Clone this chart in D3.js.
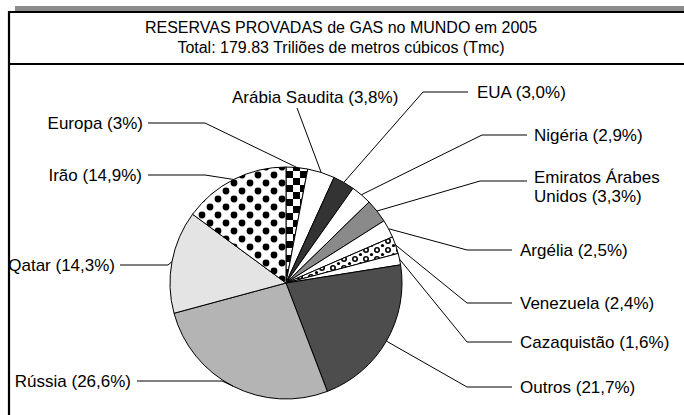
<!DOCTYPE html>
<html><head><meta charset="utf-8">
<script src="https://cdn.jsdelivr.net/npm/d3@7"></script>
<style>
html,body{margin:0;padding:0;background:#fff;}
svg{display:block;font-family:"Liberation Sans",Arial,sans-serif;}
</style></head>
<body><svg id="chart" width="684" height="415"></svg>
<script>
// ---- data ----
const categories = ["Europa","Arábia Saudita","EUA","Nigéria","Emiratos Árabes Unidos","Argélia","Venezuela","Cazaquistão","Outros","Rússia","Qatar","Irão"];
const shares = [3.0,3.8,3.0,2.9,3.3,2.5,2.4,1.6,21.7,26.6,14.3,14.9];
const labelLines = [["Europa (3%)"],["Arábia Saudita (3,8%)"],["EUA (3,0%)"],["Nigéria (2,9%)"],["Emiratos Árabes","Unidos (3,3%)"],["Argélia (2,5%)"],["Venezuela (2,4%)"],["Cazaquistão (1,6%)"],["Outros (21,7%)"],["Rússia (26,6%)"],["Qatar (14,3%)"],["Irão (14,9%)"]];
const titleLines = ["RESERVAS PROVADAS de GAS no MUNDO em 2005","Total: 179.83 Triliões de metros cúbicos (Tmc)"];

// ---- styles / layout ----
const fills = ["url(#checker)","#ffffff","#333333","#ffffff","#8a8a8a","#ffffff","url(#rings)","#ffffff","#4d4d4d","#b4b4b4","#e4e4e4","url(#dots)"];
const layout = [
  {ex:205,ey:123,hx:148,tx:143,anchor:"end"},
  {ex:297,ey:108,hx:297,tx:232,ty:97,anchor:"start"},
  {ex:423,ey:92,hx:468,tx:477,anchor:"start"},
  {ex:482,ey:135,hx:527,tx:534,anchor:"start"},
  {ex:480,ey:181,hx:527,tx:534,ty:177,anchor:"start"},
  {ex:467,ey:250,hx:512,tx:520,anchor:"start"},
  {ex:467,ey:303,hx:512,tx:520,anchor:"start"},
  {ex:467,ey:342,hx:512,tx:520,anchor:"start"},
  {ex:467,ey:387,hx:512,tx:520,anchor:"start"},
  {ex:222,ey:381,hx:137,tx:131,anchor:"end"},
  {ex:168,ey:265,hx:120,tx:115,anchor:"end"},
  {ex:205,ey:175,hx:148,tx:142,anchor:"end"}
];

const svg = d3.select("#chart");
const defs = svg.append("defs");
const pc = defs.append("pattern").attr("id","checker").attr("patternUnits","userSpaceOnUse").attr("width",14).attr("height",14);
pc.append("rect").attr("width",14).attr("height",14).attr("fill","#fff");
pc.append("rect").attr("width",7).attr("height",7).attr("fill","#000");
pc.append("rect").attr("x",7).attr("y",7).attr("width",7).attr("height",7).attr("fill","#000");
const pd = defs.append("pattern").attr("id","dots").attr("patternUnits","userSpaceOnUse").attr("width",16).attr("height",16);
pd.append("rect").attr("width",16).attr("height",16).attr("fill","#fff");
pd.append("circle").attr("cx",4).attr("cy",4).attr("r",3.4).attr("fill","#000");
pd.append("circle").attr("cx",12).attr("cy",12).attr("r",3.4).attr("fill","#000");
const pr = defs.append("pattern").attr("id","rings").attr("patternUnits","userSpaceOnUse").attr("width",11).attr("height",9);
pr.append("rect").attr("width",11).attr("height",9).attr("fill","#fff");
pr.append("circle").attr("cx",3).attr("cy",3).attr("r",2.2).attr("fill","none").attr("stroke","#000").attr("stroke-width",1.6);
pr.append("circle").attr("cx",8.5).attr("cy",7.5).attr("r",1.6).attr("fill","#000");

svg.append("rect").attr("x",15).attr("y",6).attr("width",680).attr("height",5).attr("fill","#8c8c8c");
svg.append("path").attr("d","M9,420 V12 H700").attr("fill","none").attr("stroke","#000").attr("stroke-width",2.2);
svg.append("line").attr("x1",9).attr("x2",700).attr("y1",64).attr("y2",64).attr("stroke","#000").attr("stroke-width",2.2);

svg.append("g").selectAll("text").data(titleLines).join("text")
  .attr("x",341).attr("y",(d,i)=>27+i*20).attr("dy","0.35em")
  .attr("text-anchor","middle").attr("font-size",16).attr("fill","#000").text(d=>d);

const cx=286, cy=283, r=116;
const pie = d3.pie().sort(null).value(d=>d);
const arcs = pie(shares);
const arc = d3.arc().innerRadius(0).outerRadius(r);
const edge = d3.arc().innerRadius(r).outerRadius(r);
const g = svg.append("g").attr("transform",`translate(${cx},${cy})`);
g.selectAll("path").data(arcs).join("path")
  .attr("d",arc).attr("fill",(d,i)=>fills[i])
  .attr("stroke","#000").attr("stroke-width",1);

const lg = svg.append("g");
arcs.forEach((d,i)=>{
  const [px,py] = edge.centroid(d);
  const L = layout[i];
  lg.append("polyline")
    .attr("points",`${cx+px},${cy+py} ${L.ex},${L.ey} ${L.hx},${L.ey}`)
    .attr("fill","none").attr("stroke","#000").attr("stroke-width",1);
  const t = lg.append("text").attr("font-size",17).attr("fill","#000")
    .attr("text-anchor",L.anchor);
  const y0 = L.ty!==undefined ? L.ty : L.ey;
  labelLines[i].forEach((s,k)=>{
    t.append("tspan").attr("x",L.tx).attr("y",y0+k*19).attr("dy","0.35em").text(s);
  });
});
</script></body></html>
